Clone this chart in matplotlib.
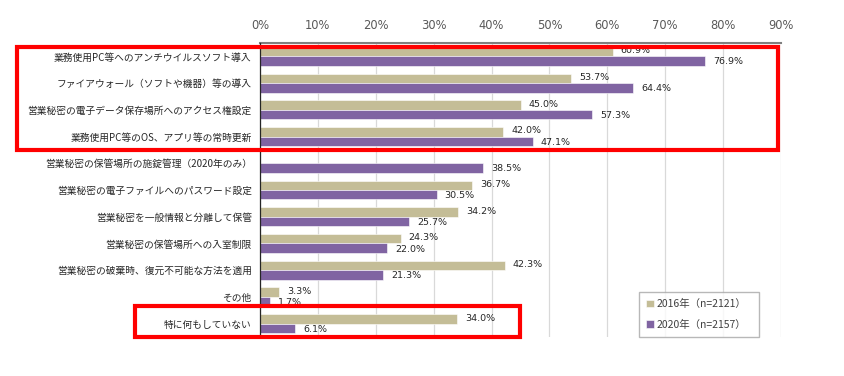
import matplotlib
matplotlib.use("Agg")
import matplotlib.pyplot as plt
from matplotlib.patches import Rectangle
import numpy as np

plt.rcParams['font.family'] = ['Noto Sans CJK JP', 'DejaVu Sans']

categories = [
    "業務使用PC等へのアンチウイルスソフト導入",
    "ファイアウォール（ソフトや機器）等の導入",
    "営業秘密の電子データ保存場所へのアクセス権設定",
    "業務使用PC等のOS、アプリ等の常時更新",
    "営業秘密の保管場所の施錠管理（2020年のみ）",
    "営業秘密の電子ファイルへのパスワード設定",
    "営業秘密を一般情報と分離して保管",
    "営業秘密の保管場所への入室制限",
    "営業秘密の破棄時、復元不可能な方法を適用",
    "その他",
    "特に何もしていない",
]
vals_2016 = [60.9, 53.7, 45.0, 42.0, None, 36.7, 34.2, 24.3, 42.3, 3.3, 34.0]
vals_2020 = [76.9, 64.4, 57.3, 47.1, 38.5, 30.5, 25.7, 22.0, 21.3, 1.7, 6.1]
series_names = ["2016年（n=2121）", "2020年（n=2157）"]
xticks = [0, 10, 20, 30, 40, 50, 60, 70, 80, 90]

c16 = "#C4BD97"
c20 = "#8064A2"

W, H = 844, 376
fig = plt.figure(figsize=(W / 100, H / 100), dpi=100)
ax = fig.add_axes([260 / W, 1 - 337 / H, (781 - 260) / W, (337 - 43) / H])

y = np.arange(len(categories))
h = 0.355
v16 = np.array([np.nan if v is None else v for v in vals_2016])
v20 = np.array(vals_2020, dtype=float)

mask = ~np.isnan(v16)
ax.barh(y[mask] - h / 2, v16[mask], height=h, color=c16, edgecolor="white",
        linewidth=0.4, label=series_names[0], zorder=3)
ax.barh(y + h / 2, v20, height=h, color=c20, edgecolor="white",
        linewidth=0.4, label=series_names[1], zorder=3)

for yi, v in zip(y[mask], v16[mask]):
    ax.text(v + 1.4, yi - h / 2 - 0.03, f"{v:.1f}%", va="center", ha="left",
            fontsize=6.8, color="#262626", family="DejaVu Sans")
for yi, v in zip(y, v20):
    ax.text(v + 1.4, yi + h / 2 + 0.03, f"{v:.1f}%", va="center", ha="left",
            fontsize=6.8, color="#262626", family="DejaVu Sans")

ax.set_xlim(0, 90)
ax.set_ylim(len(categories) - 0.5, -0.5)
ax.set_xticks(xticks)
ax.set_xticklabels([f"{t}%" for t in xticks], family="DejaVu Sans")
ax.xaxis.tick_top()
ax.tick_params(axis="x", length=0, labelsize=8.3, labelcolor="#595959", pad=8)
ax.set_yticks(y)
ax.set_yticklabels(categories, fontsize=7)
ax.tick_params(axis="y", length=0, labelcolor="#262626", pad=6)
ax.grid(axis="x", color="#D9D9D9", linewidth=0.9, zorder=0)
ax.set_axisbelow(True)
for s in ["right", "bottom"]:
    ax.spines[s].set_visible(False)
ax.spines["top"].set_color("#7F7F7F")
ax.spines["top"].set_linewidth(1.5)
ax.spines["left"].set_color("#262626")
ax.spines["left"].set_linewidth(0.9)
ax.spines["left"].set_zorder(4)

leg = ax.legend(loc="lower left", bbox_to_anchor=((639 - 260) / (781 - 260), 0.0,
                                                   (759 - 639) / (781 - 260), (337 - 292) / (337 - 43)),
                mode="expand", fontsize=7.5, frameon=True, fancybox=False,
                handlelength=0.7, handleheight=0.7, handletextpad=0.3,
                borderaxespad=0, labelspacing=1.0, borderpad=0.7)
leg.get_frame().set_edgecolor("#A6A6A6")
leg.get_frame().set_linewidth(1.0)
for t in leg.get_texts():
    t.set_color("#404040")

# red highlight boxes (figure pixel coordinates)
def red_box(x0, y0, x1, y1):
    fig.patches.append(Rectangle((x0 / W, 1 - y1 / H), (x1 - x0) / W, (y1 - y0) / H,
                                 transform=fig.transFigure, fill=False,
                                 edgecolor="#FF0000", linewidth=3.0, zorder=10))

red_box(17, 46.5, 778, 149.5)
red_box(135, 306, 520, 337)

fig.savefig("out.png", dpi=100)
